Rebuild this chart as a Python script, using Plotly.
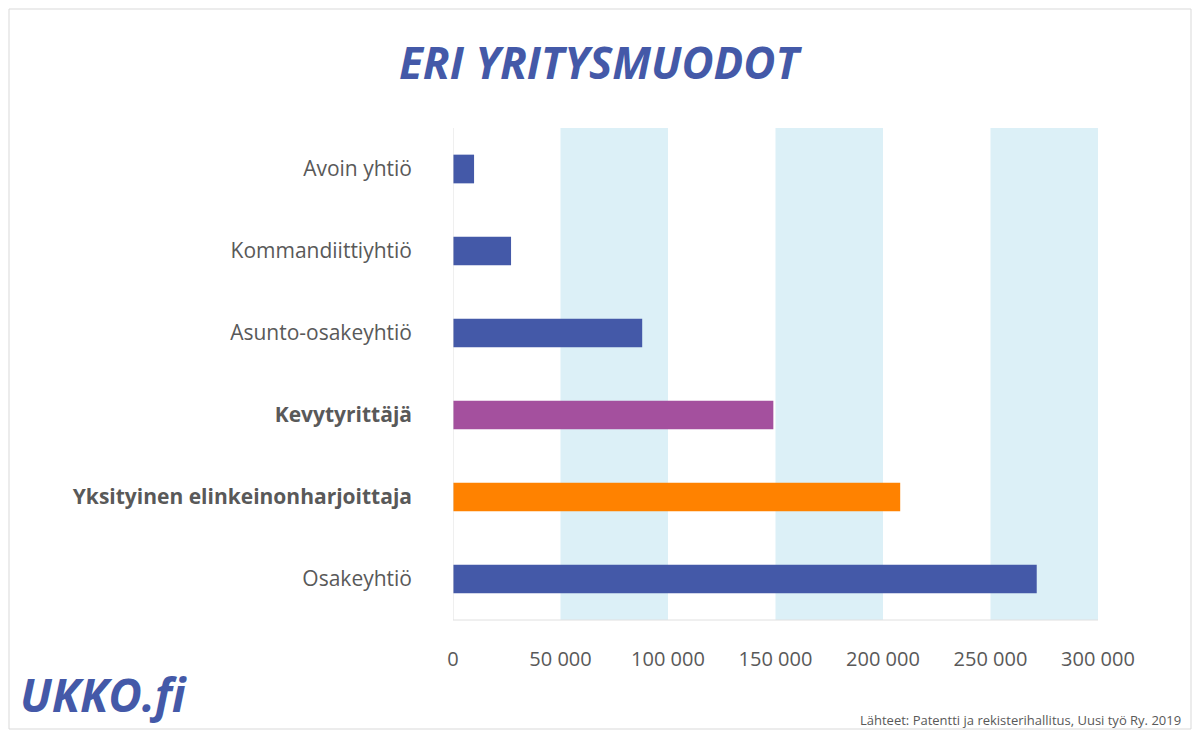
import plotly.graph_objects as go

categories = ["Avoin yhtiö", "Kommandiittiyhtiö", "Asunto-osakeyhtiö", "Kevytyrittäjä",
              "Yksityinen elinkeinonharjoittaja", "Osakeyhtiö"]
values = [9800, 27000, 88000, 149000, 208000, 271500]
colors = ["#4459a8", "#4459a8", "#4459a8", "#a4509e", "#ff8200", "#4459a8"]
bold = [False, False, False, True, True, False]
tick_vals = [0, 50000, 100000, 150000, 200000, 250000, 300000]
tick_text = ["0", "50 000", "100 000", "150 000", "200 000", "250 000", "300 000"]
bands = [(50000, 100000), (150000, 200000), (250000, 300000)]

OFF = 8  # page body margin
W, H = 1200 - 2 * OFF, 738 - 2 * OFF
L, R, T, B = 453 - OFF, 102 - OFF, 128 - OFF, 118 - OFF
pw, ph = W - L - R, H - T - B

def px(x):  # reference pixel x -> paper
    return (x - OFF - L) / pw

def py(y):  # reference pixel y -> paper
    return (H - (y - OFF) - B) / ph

labels = [f"<b>{c}</b>" if b else c for c, b in zip(categories, bold)]

fig = go.Figure(go.Bar(x=values, y=labels, orientation="h", marker_color=colors,
                       marker_line_width=0, hoverinfo="skip"))

shapes = [dict(type="rect", xref="x", yref="paper", x0=a, x1=b, y0=0, y1=1,
               fillcolor="#dcf0f7", line_width=0, layer="below") for a, b in bands]
shapes.append(dict(type="rect", xref="paper", yref="paper",
                   x0=(-L + 1) / pw, x1=(pw + R - 1) / pw, y0=(-B + 1) / ph, y1=(ph + T - 1) / ph,
                   line=dict(color="#d9d9d9", width=1), fillcolor="rgba(0,0,0,0)"))
shapes.append(dict(type="line", xref="x", yref="paper", x0=0, x1=0, y0=0, y1=1,
                   line=dict(color="#e0e0e0", width=1)))
shapes.append(dict(type="line", xref="paper", yref="paper", x0=0, x1=1, y0=0, y1=0,
                   line=dict(color="#e0e0e0", width=1)))

fig.update_layout(
    width=W, height=H, margin=dict(l=L, r=R, t=T, b=B),
    paper_bgcolor="white", plot_bgcolor="white",
    font=dict(family="Open Sans", color="#595959"),
    bargap=0.65, showlegend=False, shapes=shapes,
    xaxis=dict(range=[0, 300000], tickvals=tick_vals, ticktext=tick_text, showgrid=False,
               zeroline=False, tickfont=dict(size=20, color="#595959"), ticklabelstandoff=25),
    yaxis=dict(autorange="reversed", showgrid=False, tickfont=dict(size=21, color="#595959"),
               ticklabelstandoff=40),
    annotations=[
        dict(text="<b><i>ERI YRITYSMUODOT</i></b>", xref="paper", yref="paper",
             x=px(600), y=py(62), xanchor="center", yanchor="middle", showarrow=False,
             font=dict(size=44, color="#4459a8", family="Open Sans")),
        dict(text="<b><i>UKKO.fi</i></b>", xref="paper", yref="paper",
             x=px(18), y=py(694), xanchor="left", yanchor="middle", showarrow=False,
             font=dict(size=46, color="#4459a8", family="Open Sans")),
        dict(text="Lähteet: Patentti ja rekisterihallitus, Uusi työ Ry. 2019", xref="paper",
             yref="paper", x=px(1183), y=py(720), xanchor="right", yanchor="middle",
             showarrow=False, font=dict(size=13, color="#595959")),
    ],
)
fig.write_html("out.html")
